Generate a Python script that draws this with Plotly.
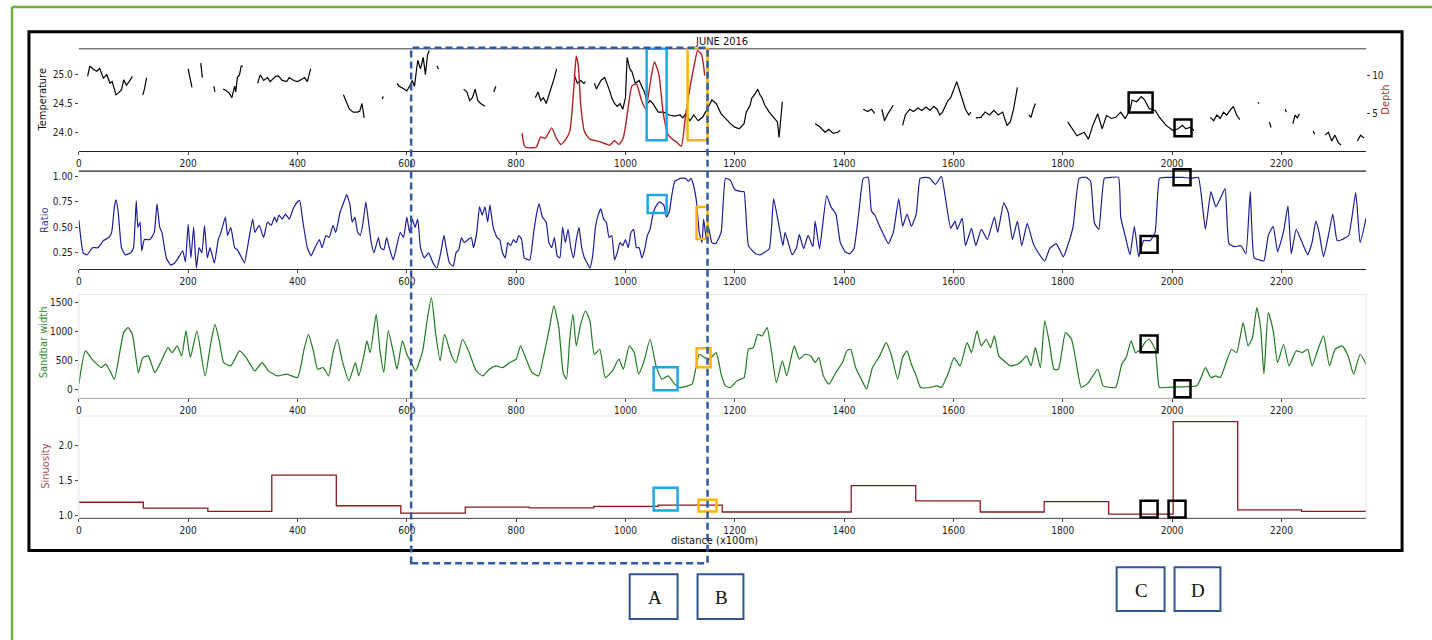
import plotly.graph_objects as go

W, H = 1432, 640

# ---------------- data ----------------
x_ticks = [0, 200, 400, 600, 800, 1000, 1200, 1400, 1600, 1800, 2000, 2200]

temp_segments = [
    ([16, 20, 27, 33, 38, 45, 51, 57, 61, 68, 72, 78, 82, 87, 92, 98],
     [24.97, 25.15, 25.09, 25.06, 25.11, 24.94, 25.0, 24.85, 24.88, 24.65, 24.68, 24.74, 24.91, 24.82, 24.88, 24.97]),
    ([117, 120, 124], [24.65, 24.75, 24.95]),
    ([200, 204, 207], [25.1, 24.9, 24.78]),
    ([223, 226], [25.2, 24.95]),
    ([247, 249], [24.8, 24.7]),
    ([264, 270, 275, 280, 285, 287, 290, 294, 297, 300],
     [24.75, 24.72, 24.68, 24.6, 24.8, 24.7, 24.95, 25.0, 25.15, 25.15]),
    ([327, 332, 338, 345, 350, 355, 360, 365, 372, 380, 385, 393, 400, 408, 413, 418, 424],
     [24.85, 25.0, 24.9, 24.95, 24.88, 24.92, 24.97, 24.98, 24.9, 24.88, 24.95, 24.9, 24.88, 24.92, 24.95, 24.88, 25.1]),
    ([484, 488, 495, 502, 510, 514, 518, 522], [24.65, 24.55, 24.4, 24.35, 24.35, 24.37, 24.5, 24.25]),
    ([555, 557], [24.58, 24.62]),
    ([582, 586, 595, 600, 605, 610, 614, 620, 625, 630, 634, 638, 641],
     [24.85, 24.8, 24.75, 24.72, 24.8, 24.9, 24.8, 25.25, 25.1, 25.3, 25.0, 25.35, 25.42]),
    ([655, 658], [25.15, 25.1]),
    ([704, 710, 715, 720, 725, 730, 735, 743], [24.75, 24.7, 24.55, 24.6, 24.75, 24.55, 24.5, 24.45]),
    ([759, 763], [24.7, 24.8]),
    ([835, 840, 845, 850, 855, 862, 866, 870, 874], [24.6, 24.7, 24.55, 24.6, 24.5, 24.7, 24.8, 24.95, 25.1]),
    ([906, 912, 918, 924, 927], [25.0, 24.85, 24.9, 24.85, 24.88]),
    ([943, 947, 955, 962, 970, 975, 980, 985, 990, 995, 1000, 1003, 1008, 1012, 1018, 1025, 1032, 1035,
      1040, 1045, 1050, 1060, 1070, 1080, 1090, 1100, 1105, 1110, 1118, 1125, 1133, 1141, 1150, 1158,
      1166, 1175, 1183, 1192, 1200, 1208, 1217, 1221, 1228, 1231, 1238, 1242, 1246, 1250, 1255, 1263,
      1271, 1278, 1281, 1287],
     [24.85, 24.75, 24.9, 24.95, 24.75, 24.6, 24.5, 24.45, 24.5, 24.4, 24.6, 25.3, 25.1, 25.05, 24.85,
      24.9, 24.75, 24.7, 24.5, 24.55, 24.5, 24.35, 24.35, 24.3, 24.28, 24.3, 24.25, 24.32, 24.2, 24.3,
      24.2, 24.26, 24.41, 24.56, 24.5, 24.32, 24.24, 24.15, 24.09, 24.06, 24.15, 24.35, 24.47, 24.59,
      24.68, 24.75, 24.65, 24.59, 24.47, 24.35, 24.26, 24.18, 23.91, 24.53]),
    ([1347, 1355, 1365, 1372, 1380, 1388, 1393], [24.15, 24.1, 24.0, 24.05, 23.98, 24.0, 24.03]),
    ([1435, 1443, 1450, 1456], [24.4, 24.36, 24.4, 24.33]),
    ([1469, 1474, 1480, 1485, 1490], [24.4, 24.2, 24.32, 24.4, 24.47]),
    ([1507, 1512, 1520, 1527, 1535, 1542, 1550, 1557, 1564, 1570, 1575, 1580, 1585, 1590, 1595, 1600,
      1606, 1612, 1617, 1622, 1628, 1632],
     [24.12, 24.3, 24.4, 24.36, 24.42, 24.38, 24.44, 24.38, 24.45, 24.4, 24.3, 24.35, 24.45, 24.55, 24.6,
      24.72, 24.88, 24.7, 24.55, 24.4, 24.3, 24.35]),
    ([1641, 1650, 1658, 1666, 1674, 1682, 1690, 1698, 1704, 1710, 1717],
     [24.25, 24.26, 24.35, 24.3, 24.38, 24.3, 24.35, 24.12, 24.18, 24.4, 24.78]),
    ([1738, 1742, 1746, 1750], [24.3, 24.26, 24.4, 24.5]),
    ([1809, 1817, 1826, 1839, 1847, 1855, 1864, 1872, 1880, 1889, 1897, 1906, 1914, 1923, 1927, 1935,
      1944, 1950, 1958, 1969, 1977, 1989, 2002, 2011, 2019, 2025, 2034, 2040],
     [24.18, 24.06, 23.94, 24.0, 23.88, 24.12, 24.32, 24.06, 24.29, 24.24, 24.26, 24.35, 24.24, 24.38,
      24.56, 24.53, 24.62, 24.56, 24.41, 24.38, 24.26, 24.12, 24.03, 24.06, 24.12, 24.06, 24.09, 24.03]),
    ([2070, 2076, 2082, 2088, 2094, 2100, 2106, 2112, 2118, 2124],
     [24.26, 24.2, 24.3, 24.24, 24.35, 24.3, 24.38, 24.45, 24.3, 24.22]),
    ([2157, 2159], [24.52, 24.5]),
    ([2178, 2181], [24.18, 24.08]),
    ([2207, 2209], [24.4, 24.35]),
    ([2221, 2225, 2229, 2233], [24.15, 24.3, 24.25, 24.32]),
    ([2258, 2261], [24.02, 23.97]),
    ([2280, 2286, 2292, 2298, 2304, 2309], [23.95, 24.0, 23.85, 23.95, 23.82, 23.78]),
    ([2339, 2345, 2351], [23.85, 23.95, 23.9]),
]

depth_x = [811, 816, 829, 837, 845, 853, 865, 873, 882, 890, 898, 906, 910, 914, 918, 925, 935, 951, 963,
           971, 980, 988, 996, 1004, 1012, 1020, 1029, 1037, 1045, 1053, 1061, 1069, 1078, 1086, 1094,
           1102, 1110, 1118, 1127, 1132, 1139, 1145]
depth_y = [2.4, 0.6, 0.46, 0.57, 1.9, 1.7, 3.1, 1.8, 0.9, 1.5, 2.6, 8.87, 12.6, 11.1, 6.2, 2.6, 1.6, 1.3,
           1.0, 0.8, 1.4, 0.9, 1.8, 5.28, 8.64, 8.87, 6.8, 5.6, 8.87, 11.8, 10.2, 5.05, 2.2, 1.6, 1.2,
           0.66, 4.83, 8.4, 11.8, 13.3, 12.8, 10.0]

ratio_x = [0, 8, 15, 25, 35, 45, 55, 60, 65, 68, 72, 78, 85, 95, 100, 105, 108, 112, 115, 120, 130, 138,
           143, 148, 152, 160, 168, 175, 182, 190, 195, 200, 205, 210, 215, 220, 225, 230, 235, 240, 248,
           255, 260, 268, 272, 278, 285, 290, 298, 303, 310, 318, 322, 330, 338, 345, 352, 358, 362, 366,
           372, 378, 385, 392, 400, 404, 410, 418, 425, 432, 440, 445, 452, 458, 465, 470, 478, 485, 490,
           496, 500, 505, 510, 515, 520, 525, 530, 535, 540, 548, 552, 558, 563, 568, 575, 580, 588, 594,
           600, 605, 610, 615, 620, 625, 632, 640, 648, 655, 662, 668, 672, 678, 685, 690, 695, 700, 705,
           712, 718, 722, 728, 733, 738, 743, 748, 752, 758, 765, 770, 775, 780, 785, 790, 795, 800, 805,
           810, 815, 825, 832, 838, 842, 848, 855, 860, 865, 870, 875, 880, 885, 890, 895, 900, 905, 910,
           915, 920, 925, 930, 935, 940, 945, 950, 955, 960, 965, 970, 975, 980, 985, 990, 995, 1000,
           1005, 1010, 1015, 1020, 1025, 1030, 1035, 1040, 1045, 1050, 1055, 1062, 1070, 1075, 1080,
           1085, 1090, 1100, 1110, 1115, 1120, 1125, 1130, 1135, 1140, 1143, 1148, 1152, 1158, 1165,
           1175, 1183, 1192, 1200, 1213, 1217, 1225, 1238, 1246, 1263, 1271, 1280, 1288, 1292, 1305,
           1313, 1318, 1326, 1334, 1343, 1347, 1355, 1368, 1376, 1385, 1393, 1402, 1410, 1418, 1427,
           1435, 1444, 1450, 1456, 1465, 1473, 1481, 1490, 1500, 1507, 1515, 1523, 1532, 1539, 1549,
           1557, 1567, 1578, 1587, 1595, 1603, 1607, 1616, 1622, 1633, 1641, 1651, 1662, 1675, 1681,
           1692, 1700, 1708, 1717, 1725, 1735, 1746, 1754, 1767, 1776, 1788, 1801, 1809, 1819, 1830,
           1843, 1851, 1858, 1866, 1876, 1889, 1902, 1906, 1914, 1923, 1931, 1939, 1948, 1960, 1969,
           1977, 1989, 2002, 2019, 2036, 2048, 2061, 2071, 2080, 2088, 2097, 2104, 2114, 2126, 2135,
           2143, 2150, 2160, 2168, 2176, 2185, 2193, 2204, 2212, 2218, 2227, 2238, 2248, 2256, 2263,
           2269, 2277, 2286, 2294, 2302, 2311, 2323, 2336, 2344, 2355]
ratio_y = [0.57, 0.25, 0.23, 0.30, 0.30, 0.37, 0.40, 0.45, 0.70, 0.77, 0.65, 0.30, 0.23, 0.25, 0.30, 0.76,
           0.50, 0.55, 0.27, 0.38, 0.38, 0.45, 0.73, 0.50, 0.45, 0.20, 0.13, 0.15, 0.20, 0.27, 0.16, 0.53,
           0.20, 0.50, 0.10, 0.30, 0.25, 0.52, 0.20, 0.30, 0.15, 0.38, 0.45, 0.60, 0.42, 0.50, 0.30, 0.28,
           0.20, 0.15, 0.35, 0.58, 0.45, 0.52, 0.40, 0.55, 0.52, 0.60, 0.55, 0.62, 0.58, 0.63, 0.58, 0.68,
           0.75, 0.76, 0.55, 0.30, 0.22, 0.30, 0.38, 0.30, 0.42, 0.40, 0.52, 0.45, 0.65, 0.75, 0.82, 0.72,
           0.55, 0.60, 0.45, 0.42, 0.55, 0.75, 0.55, 0.35, 0.25, 0.40, 0.30, 0.28, 0.40, 0.30, 0.18, 0.28,
           0.45, 0.40, 0.60, 0.45, 0.58, 0.50, 0.58, 0.30, 0.20, 0.25, 0.15, 0.10, 0.25, 0.42, 0.30, 0.15,
           0.12, 0.25, 0.28, 0.40, 0.35, 0.38, 0.40, 0.30, 0.45, 0.70, 0.62, 0.70, 0.55, 0.72, 0.50, 0.40,
           0.38, 0.25, 0.20, 0.35, 0.32, 0.38, 0.35, 0.42, 0.38, 0.20, 0.18, 0.45, 0.65, 0.73, 0.60, 0.55,
           0.35, 0.30, 0.40, 0.22, 0.20, 0.50, 0.35, 0.48, 0.30, 0.20, 0.38, 0.50, 0.30, 0.20, 0.15, 0.10,
           0.22, 0.50, 0.62, 0.68, 0.58, 0.55, 0.40, 0.42, 0.18, 0.25, 0.35, 0.32, 0.38, 0.30, 0.45, 0.48,
           0.30, 0.30, 0.20, 0.28, 0.42, 0.48, 0.62, 0.70, 0.75, 0.72, 0.60, 0.65, 0.82, 0.95, 0.98, 0.98,
           0.95, 0.98, 0.90, 0.75, 0.45, 0.35, 0.58, 0.38, 0.50, 0.35, 0.34, 0.45, 0.98, 0.96, 0.87, 0.85,
           0.85, 0.32, 0.24, 0.23, 0.29, 0.78, 0.54, 0.32, 0.45, 0.23, 0.30, 0.43, 0.29, 0.42, 0.31, 0.56,
           0.29, 0.81, 0.70, 0.63, 0.35, 0.26, 0.24, 0.29, 0.65, 0.98, 0.99, 0.66, 0.62, 0.51, 0.42, 0.34,
           0.45, 0.78, 0.51, 0.63, 0.51, 0.63, 0.98, 0.99, 0.98, 0.92, 1.00, 0.73, 0.49, 0.56, 0.48, 0.59,
           0.32, 0.49, 0.32, 0.48, 0.38, 0.60, 0.45, 0.74, 0.65, 0.38, 0.56, 0.32, 0.54, 0.34, 0.26, 0.17,
           0.29, 0.34, 0.21, 0.32, 0.51, 0.98, 0.99, 0.95, 0.54, 0.48, 0.98, 0.99, 0.99, 0.60, 0.42, 0.23,
           0.51, 0.21, 0.37, 0.37, 0.45, 0.98, 0.99, 0.99, 0.99, 0.98, 0.99, 0.48, 0.85, 0.70, 0.78, 0.88,
           0.34, 0.31, 0.32, 0.24, 0.85, 0.20, 0.18, 0.17, 0.42, 0.51, 0.26, 0.46, 0.71, 0.24, 0.48, 0.35,
           0.23, 0.35, 0.56, 0.45, 0.21, 0.42, 0.63, 0.37, 0.38, 0.42, 0.84, 0.35, 0.59]

sandbar_x = [0, 12, 24, 41, 49, 57, 65, 82, 90, 98, 109, 117, 127, 139, 151, 163, 171, 180, 188, 196, 204,
             216, 231, 241, 249, 257, 265, 278, 294, 306, 322, 335, 347, 363, 380, 400, 412, 420, 429, 437,
             447, 457, 465, 473, 482, 494, 506, 512, 522, 527, 533, 544, 551, 558, 566, 576, 582, 592, 600,
             608, 616, 629, 637, 645, 653, 661, 669, 682, 690, 702, 714, 727, 739, 751, 763, 776, 788, 800,
             808, 816, 829, 841, 851, 861, 869, 878, 886, 892, 898, 904, 910, 918, 927, 935, 943, 953, 963,
             976, 988, 996, 1007, 1016, 1024, 1034, 1045, 1056, 1067, 1078, 1090, 1098, 1114, 1122, 1135,
             1145, 1154, 1166, 1175, 1183, 1192, 1204, 1217, 1225, 1234, 1242, 1250, 1259, 1267, 1276,
             1287, 1295, 1303, 1309, 1318, 1329, 1339, 1347, 1354, 1362, 1372, 1385, 1397, 1405, 1412,
             1421, 1433, 1441, 1452, 1465, 1477, 1486, 1498, 1507, 1515, 1523, 1532, 1540, 1557, 1570,
             1578, 1591, 1601, 1612, 1625, 1633, 1643, 1651, 1660, 1668, 1675, 1683, 1696, 1704, 1717,
             1725, 1734, 1742, 1750, 1759, 1767, 1776, 1784, 1792, 1805, 1816, 1824, 1834, 1847, 1864,
             1874, 1889, 1897, 1908, 1916, 1925, 1933, 1943, 1950, 1958, 1969, 1977, 1986, 2011, 2045,
             2053, 2061, 2071, 2080, 2088, 2101, 2109, 2118, 2130, 2139, 2147, 2155, 2162, 2168, 2176,
             2185, 2193, 2204, 2214, 2227, 2238, 2248, 2256, 2265, 2277, 2288, 2298, 2311, 2322, 2332,
             2344, 2355]
sandbar_y = [87, 663, 520, 375, 433, 317, 173, 981, 1067, 952, 289, 548, 577, 289, 490, 721, 635, 750, 577,
             1010, 548, 1010, 231, 779, 1125, 837, 462, 404, 663, 548, 317, 462, 317, 231, 260, 202, 692,
             952, 663, 346, 375, 231, 635, 866, 490, 144, 462, 231, 606, 837, 635, 1298, 663, 289, 1010,
             606, 346, 837, 606, 462, 317, 663, 1183, 1587, 952, 490, 952, 577, 462, 866, 635, 317, 231,
             346, 404, 375, 462, 520, 750, 577, 289, 231, 606, 1067, 1443, 1067, 289, 173, 866, 1298, 750,
             1125, 1356, 1183, 606, 692, 202, 317, 520, 346, 750, 635, 260, 490, 866, 404, 173, 231, 87,
             29, 58, 87, 606, 548, 520, 635, 260, 58, 29, 144, 202, 692, 721, 952, 923, 1067, 663, 115,
             490, 231, 548, 750, 520, 606, 577, 462, 548, 231, 87, 289, 462, 663, 692, 375, 144, 0, 375,
             577, 808, 606, 173, 548, 663, 433, 231, 29, 29, 58, 29, 289, 548, 404, 808, 635, 1010, 750,
             866, 721, 923, 577, 462, 404, 433, 490, 577, 404, 721, 375, 1183, 779, 346, 346, 981, 866,
             490, 29, 115, 346, 58, 29, 29, 433, 548, 837, 635, 692, 808, 866, 692, 29, 29, 40, 58, 202,
             375, 202, 231, 202, 520, 692, 635, 1154, 750, 894, 1414, 1067, 260, 1327, 1010, 462, 779, 404,
             663, 635, 692, 404, 635, 923, 404, 692, 750, 577, 260, 606, 433]

sinu_edges = [0, 118, 236, 353, 471, 589, 707, 824, 942, 1060, 1177, 1295, 1413, 1531, 1649, 1766, 1884,
              2002, 2120, 2237, 2355]
sinu_vals = [1.19, 1.105, 1.06, 1.58, 1.14, 1.035, 1.12, 1.11, 1.13, 1.15, 1.05, 1.05, 1.43, 1.21, 1.05,
             1.20, 1.02, 2.35, 1.08, 1.06]

# ---------------- figure ----------------
def px(x):
    return x / W


def py(y):
    return 1 - y / H


tx, ty = [], []
for sx, sy in temp_segments:
    tx += sx + [None]
    ty += sy + [None]

sinu_x = sinu_edges
sinu_y = sinu_vals + [sinu_vals[-1]]

TICKFONT = dict(family="DejaVu Sans Condensed, Liberation Sans Narrow, DejaVu Sans, sans-serif",
                size=10, color="#222")

fig = go.Figure()
fig.add_trace(go.Scatter(x=tx, y=ty, mode="lines", line=dict(color="black", width=1.2),
                         xaxis="x", yaxis="y", connectgaps=False, showlegend=False))
fig.add_trace(go.Scatter(x=depth_x, y=depth_y, mode="lines", line=dict(color="#b22222", width=1.4,
                         shape="spline", smoothing=0.6), xaxis="x", yaxis="y5", showlegend=False))
fig.add_trace(go.Scatter(x=ratio_x, y=ratio_y, mode="lines", line=dict(color="#1c1c9c", width=1.2,
                         shape="spline", smoothing=0.4), xaxis="x2", yaxis="y2", showlegend=False))
fig.add_trace(go.Scatter(x=sandbar_x, y=sandbar_y, mode="lines", line=dict(color="#1e7b1e", width=1.2,
                         shape="spline", smoothing=0.5), xaxis="x3", yaxis="y3", showlegend=False))
fig.add_trace(go.Scatter(x=sinu_x, y=sinu_y, mode="lines", line=dict(color="#8b1a1a", width=1.3, shape="hv"),
                         xaxis="x4", yaxis="y4", showlegend=False))

xdom = [px(76), px(1366)]
panels = [(49, 152), (172, 270), (296, 400), (418, 520)]
yranges = [[23.67, 25.45], [0.094, 1.05], [-155, 1640], [0.97, 2.43]]
ytickvals = [[24.0, 24.5, 25.0], [0.25, 0.5, 0.75, 1.0], [0, 500, 1000, 1500], [1.0, 1.5, 2.0]]
yticktext = [["24.0", "24.5", "25.0"], ["0.25", "0.50", "0.75", "1.00"], ["0", "500", "1000", "1500"],
             ["1.0", "1.5", "2.0"]]
xline_colors = ["#222", "#222", "#555", "#555"]

layout = dict(width=W, height=H, margin=dict(l=0, r=0, t=0, b=0), paper_bgcolor="white",
              plot_bgcolor="white", showlegend=False)
for i, (top, bot) in enumerate(panels):
    n = "" if i == 0 else str(i + 1)
    layout["xaxis" + n] = dict(domain=xdom, range=[0, 2355], tickvals=x_ticks, ticks="outside", ticklen=3,
                               tickcolor="#444", showline=True, linecolor=xline_colors[i], linewidth=1.2,
                               showgrid=False, zeroline=False, tickfont=TICKFONT, anchor="y" + n)
    layout["yaxis" + n] = dict(domain=[py(bot), py(top)], range=yranges[i], tickvals=ytickvals[i],
                               ticktext=yticktext[i], ticks="outside", ticklen=3, tickcolor="#444",
                               showline=False, showgrid=False, zeroline=False, tickfont=TICKFONT,
                               anchor="x" + n)
layout["yaxis5"] = dict(overlaying="y", side="right", anchor="x", range=[0, 13.55], tickvals=[5, 10],
                        ticks="outside", ticklen=3, tickcolor="#444", showline=False, showgrid=False,
                        zeroline=False, tickfont=TICKFONT)

TF = "DejaVu Sans Condensed, Liberation Sans Narrow, DejaVu Sans, sans-serif"
ann = []


def label(text, x, y, color, angle=0, size=11, family=TF):
    ann.append(dict(text=text, x=px(x), y=py(y), xref="paper", yref="paper", showarrow=False,
                    textangle=angle, font=dict(family=family, size=size, color=color),
                    xanchor="center", yanchor="middle"))


label("Temperature", 40, 100, "#111", -90)
label("Depth", 1385, 100, "#b03030", -90)
label("Ratio", 42, 221, "#3c3ca0", -90)
label("Sandbar width", 40, 344, "#2e8b2e", -90)
label("Sinuosity", 43, 468, "#a0524d", -90)
label("JUNE 2016", 720, 42, "#111")
label("distance (x100m)", 713, 543, "#111")

shapes = []


def rect(x0, y0, x1, y1, color, width, dash="solid"):
    shapes.append(dict(type="rect", xref="paper", yref="paper", x0=px(x0), x1=px(x1), y0=py(y1), y1=py(y0),
                       line=dict(color=color, width=width, dash=dash), fillcolor="rgba(0,0,0,0)",
                       layer="above"))


def hline(x0, x1, y, color, width):
    shapes.append(dict(type="line", xref="paper", yref="paper", x0=px(x0), x1=px(x1), y0=py(y), y1=py(y),
                       line=dict(color=color, width=width), layer="above"))


# panel spines / frames
hline(76, 1366, 49, "#777", 1.5)
hline(76, 1366, 172, "#222", 1.2)
rect(76, 296, 1366, 400, "#e4e4e4", 1)
rect(76, 418, 1366, 520, "#e4e4e4", 1)

# outer frames
shapes.append(dict(type="line", xref="paper", yref="paper", x0=px(9), x1=px(1440), y0=py(7), y1=py(7),
                   line=dict(color="#70ad47", width=2.5)))
shapes.append(dict(type="line", xref="paper", yref="paper", x0=px(9), x1=px(9), y0=py(7), y1=py(660),
                   line=dict(color="#70ad47", width=2.5)))
rect(26, 32, 1402, 553, "black", 3)

# highlight boxes
LB, OR, BK = "#1ea7e8", "#ffb400", "black"
rect(645, 49, 665, 141, LB, 2.5)
rect(686, 49, 706, 141, OR, 2.5)
rect(1128, 93, 1152, 113, BK, 2.5)
rect(1174, 120, 1191, 137, BK, 2.5)

rect(646, 196, 665, 214, LB, 2.5)
rect(695, 208, 706, 240, OR, 2.5)
rect(1140, 237, 1157, 254, BK, 2.5)
rect(1173, 170, 1190, 186, BK, 2.5)

rect(652, 369, 676, 392, LB, 2.5)
rect(695, 350, 709, 369, OR, 2.5)
rect(1140, 337, 1157, 354, BK, 2.5)
rect(1174, 382, 1190, 399, BK, 2.5)

rect(652, 490, 676, 513, LB, 2.5)
rect(697, 502, 715, 514, OR, 2.5)
rect(1140, 503, 1157, 520, BK, 2.5)
rect(1168, 503, 1185, 520, BK, 2.5)

# dashed region
rect(409, 48, 706, 566, "#2f5aa8", 2.5, dash="7px,4px")

# letter boxes
for (x0, y0, x1, y1, t) in [(628, 577, 676, 622, "A"), (696, 577, 742, 622, "B"),
                            (1116, 570, 1164, 614, "C"), (1174, 570, 1220, 614, "D")]:
    rect(x0, y0, x1, y1, "#2f5597", 2)
    label(t, (x0 + x1) / 2 + 1, (y0 + y1) / 2 + 1, "#111", 0, 19, "Liberation Serif, Times New Roman, serif")

layout["shapes"] = shapes
layout["annotations"] = ann
fig.update_layout(**layout)
fig.write_html("out.html")
